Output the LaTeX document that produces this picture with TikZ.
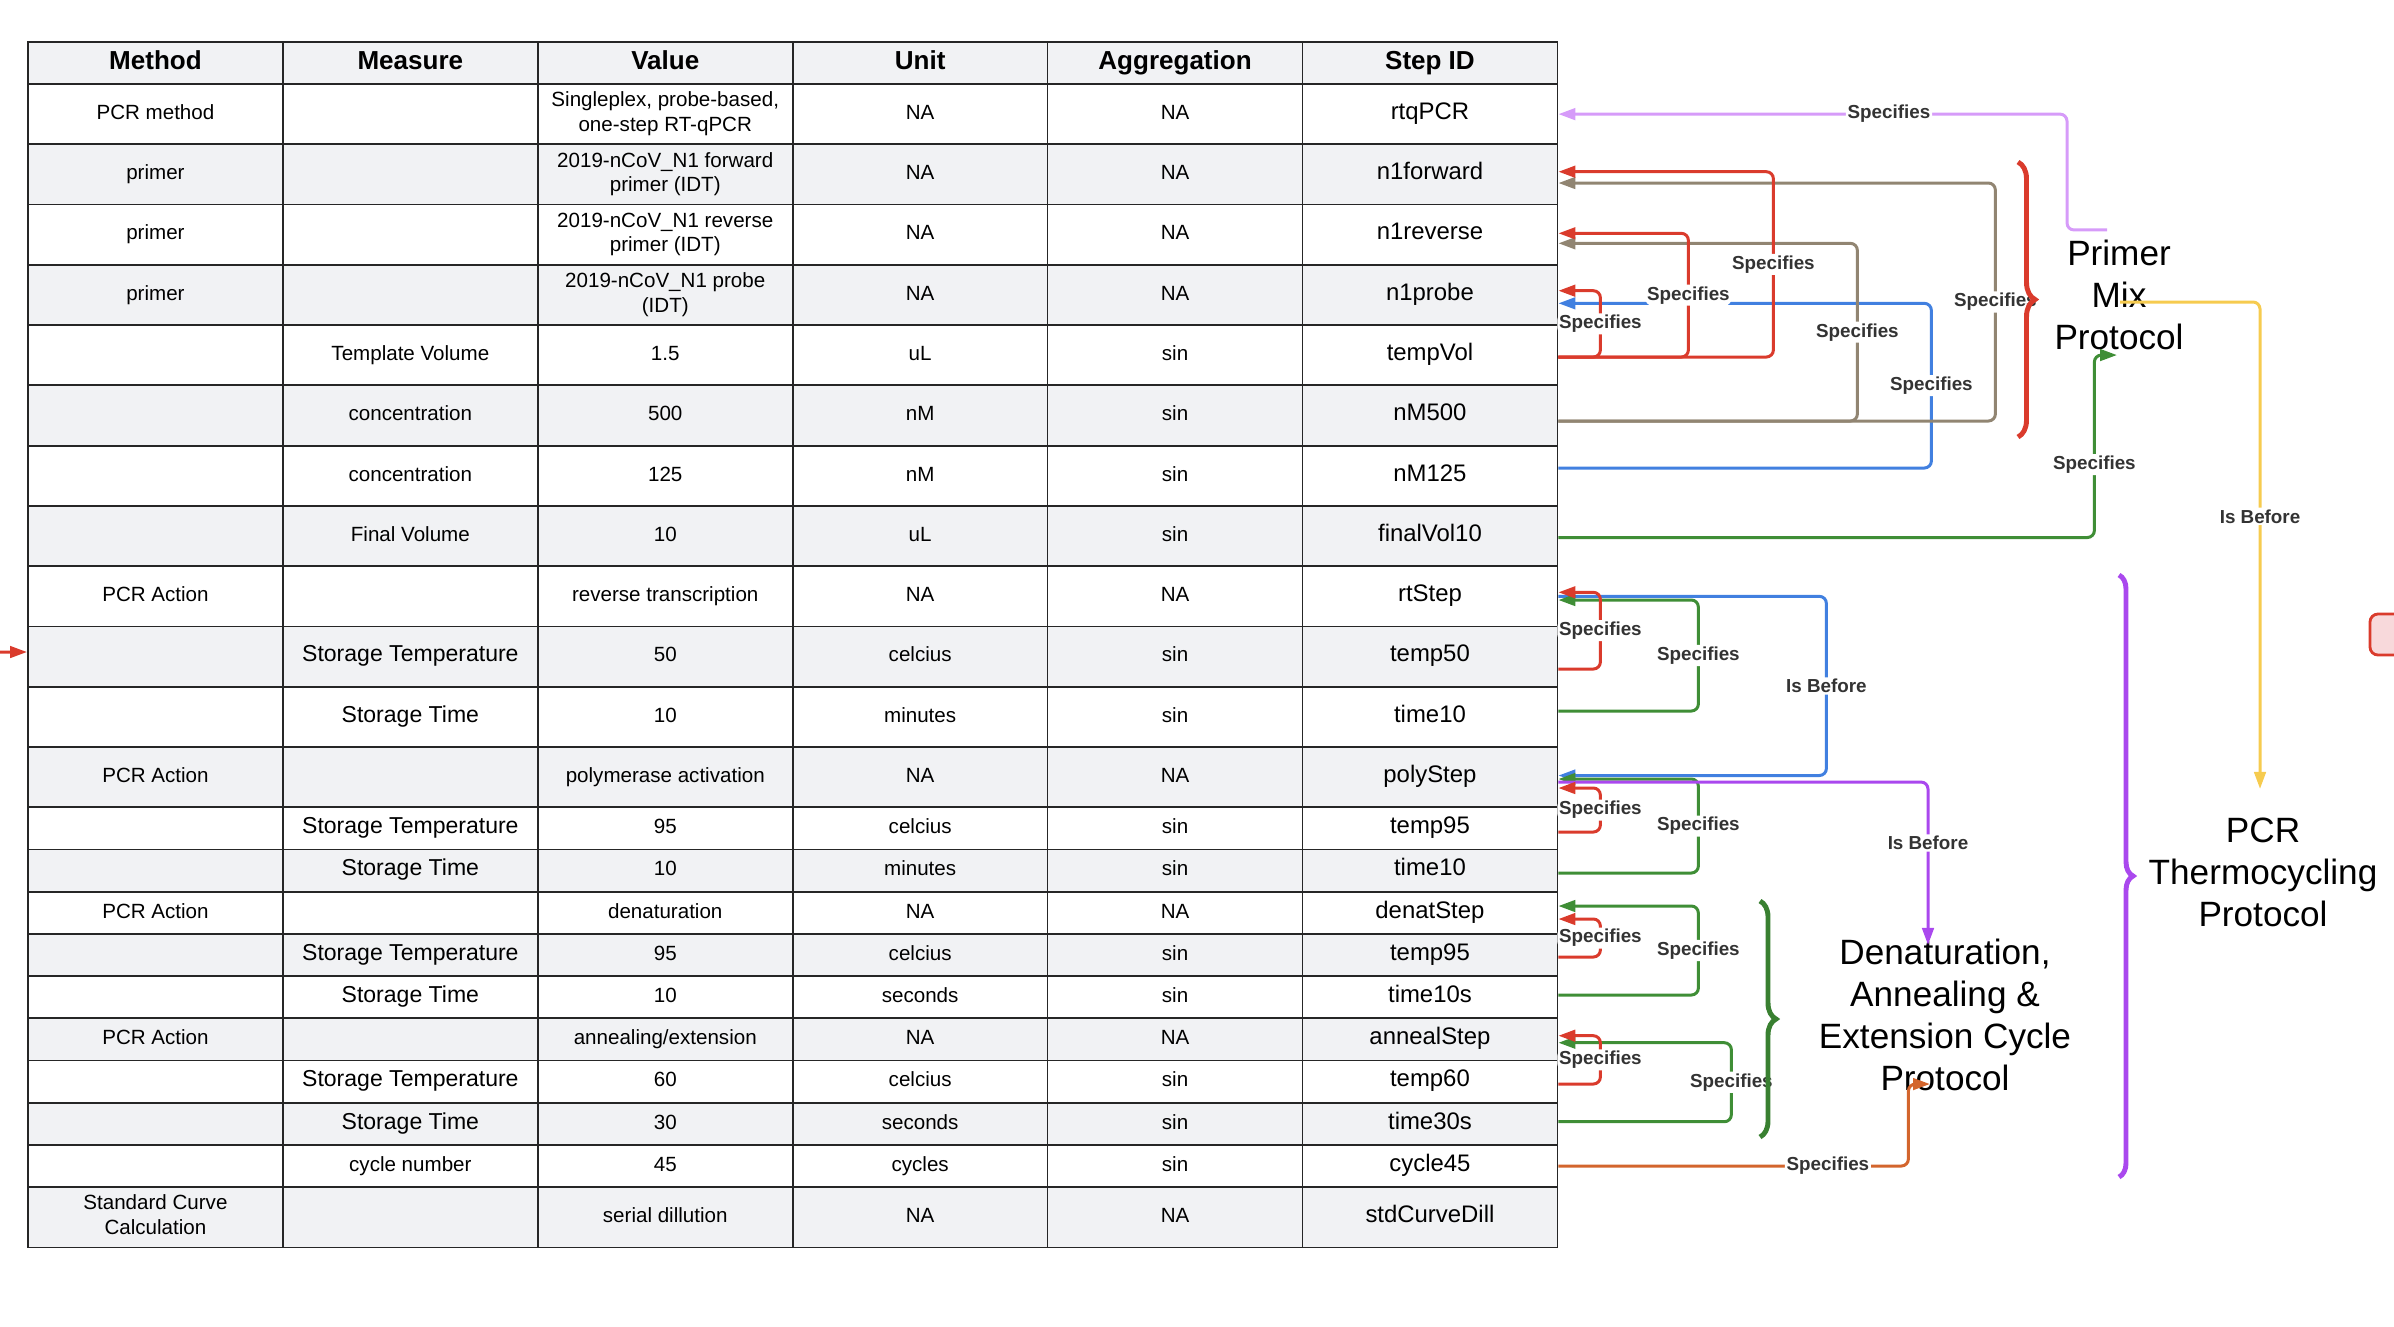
\documentclass[tikz,border=0pt]{standalone}
\usepackage{fontspec}
\setmainfont{Liberation Sans}
\usepackage{xcolor}
\usepackage{tikz}
\usetikzlibrary{arrows.meta,decorations.pathreplacing}

\definecolor{rowgray}{HTML}{F1F2F4}
\definecolor{lnkred}{HTML}{DA3B2C}
\definecolor{lnktaupe}{HTML}{918572}
\definecolor{lnkblue}{HTML}{4180E0}
\definecolor{lnkgreen}{HTML}{3F8E36}
\definecolor{lnklav}{HTML}{D69BF9}
\definecolor{lnkpurple}{HTML}{AA48EE}
\definecolor{lnkyellow}{HTML}{F6CB4F}
\definecolor{lnkorange}{HTML}{D3652D}
\definecolor{lblgray}{HTML}{333333}
\definecolor{boxpink}{HTML}{F8D9DB}

\newcommand{\storefont}{\fontsize{6.55}{7.6}\selectfont}
\newcommand{\twoline}[2]{\smash{\begin{tabular}{@{}c@{}}#1\\#2\end{tabular}}}

\begin{document}
\begin{tikzpicture}[x=0.01cm, y=-0.01cm,
  cell/.style={draw=black!85, line width=0.5pt, minimum width=2.549cm, inner sep=0pt, align=center, text height=0.75em, text depth=0.45em, font=\fontsize{5.85}{6.95}\selectfont},
  head/.style={cell, fill=rowgray, minimum height=0.42cm, text depth=0.4em, font=\fontsize{7.4}{8.4}\selectfont\bfseries},
  stepid/.style={font=\fontsize{6.8}{8}\selectfont},
  lbl/.style={fill=white, inner sep=0.5pt, text=lblgray, font=\fontsize{5.35}{6}\selectfont\bfseries},
  proto/.style={align=center, inner sep=0pt, font=\fontsize{10}{11.95}\selectfont},
  link/.style={line width=0.85pt, rounded corners=0.07cm, -{Triangle[length=0.17cm, width=0.115cm]}},
  curly/.style={decorate, decoration={brace, amplitude=#1}, line width=1.4pt}]
\useasboundingbox (0,0) rectangle (2394,1326);

% table header
\node[head] (hMethod) at (155.45,63) {Method};
\node[head] (hMeasure) at (410.35,63) {Measure};
\node[head] (hValue) at (665.25,63) {Value};
\node[head] (hUnit) at (920.15,63) {Unit};
\node[head] (hAgg) at (1175.05,63) {Aggregation};
\node[head] (hStep) at (1429.95,63) {Step ID};

% table rows
\foreach \rw/\yy/\hh/\bg/\ma/\mb/\va/\un/\ag/\sid in {
  1/114.1/0.603/white/PCR method/{}/{\twoline{Singleplex, probe-based,}{one-step RT-qPCR}}/NA/NA/rtqPCR,
  2/174.4/0.603/rowgray/primer/{}/{\twoline{2019-nCoV\_N1 forward}{primer (IDT)}}/NA/NA/n1forward,
  3/234.7/0.603/white/primer/{}/{\twoline{2019-nCoV\_N1 reverse}{primer (IDT)}}/NA/NA/n1reverse,
  4/294.9/0.603/rowgray/primer/{}/{\twoline{2019-nCoV\_N1 probe}{(IDT)}}/NA/NA/n1probe,
  5/355.2/0.603/white/{}/Template Volume/1.5/uL/sin/tempVol,
  6/415.5/0.603/rowgray/{}/concentration/500/nM/sin/nM500,
  7/475.8/0.603/white/{}/concentration/125/nM/sin/nM125,
  8/536.0/0.603/rowgray/{}/Final Volume/10/uL/sin/finalVol10,
  9/596.3/0.603/white/PCR Action/{}/reverse transcription/NA/NA/rtStep,
  10/656.6/0.603/rowgray/{}/{\storefont Storage Temperature}/50/celcius/sin/temp50,
  11/716.8/0.603/white/{}/{\storefont Storage Time}/10/minutes/sin/time10,
  12/777.1/0.603/rowgray/PCR Action/{}/polymerase activation/NA/NA/polyStep,
  13/828.4/0.422/white/{}/{\storefont Storage Temperature}/95/celcius/sin/temp95,
  14/870.6/0.422/rowgray/{}/{\storefont Storage Time}/10/minutes/sin/time10,
  15/912.8/0.422/white/PCR Action/{}/denaturation/NA/NA/denatStep,
  16/955.0/0.422/rowgray/{}/{\storefont Storage Temperature}/95/celcius/sin/temp95,
  17/997.2/0.422/white/{}/{\storefont Storage Time}/10/seconds/sin/time10s,
  18/1039.4/0.422/rowgray/PCR Action/{}/{annealing/extension}/NA/NA/annealStep,
  19/1081.6/0.422/white/{}/{\storefont Storage Temperature}/60/celcius/sin/temp60,
  20/1123.8/0.422/rowgray/{}/{\storefont Storage Time}/30/seconds/sin/time30s,
  21/1166.0/0.422/white/{}/cycle number/45/cycles/sin/cycle45,
  22/1217.2/0.603/rowgray/{\twoline{Standard Curve}{Calculation}}/{}/serial dillution/NA/NA/stdCurveDill}
{
  \node[cell, fill=\bg, minimum height=\hh cm] (method\rw) at (155.45,\yy) {\ma};
  \node[cell, fill=\bg, minimum height=\hh cm] (measure\rw) at (410.35,\yy) {\mb};
  \node[cell, fill=\bg, minimum height=\hh cm] (value\rw) at (665.25,\yy) {\va};
  \node[cell, fill=\bg, minimum height=\hh cm] (unit\rw) at (920.15,\yy) {\un};
  \node[cell, fill=\bg, minimum height=\hh cm] (agg\rw) at (1175.05,\yy) {\ag};
  \node[cell, fill=\bg, minimum height=\hh cm, stepid] (step\rw) at (1429.95,\yy) {\sid};
}

% protocols
\node[proto] (primer) at (2119,295) {Primer\\Mix\\Protocol};
\node[proto] (thermo) at (2263,872) {PCR\\Thermocycling\\Protocol};
\node[proto] (denat) at (1945,1015) {Denaturation,\\Annealing \&\\Extension Cycle\\Protocol};

% primer mix
\draw[link, lnkblue] ([yshift=0.078cm]step7.east) -- ++(373,0) |- node[lbl, pos=0.25] {Specifies} ([yshift=-0.084cm]step4.east);
\draw[link, lnktaupe] ([yshift=-0.055cm]step6.east) -- ++(437,0) |- node[lbl, pos=0.25] {Specifies} ([yshift=-0.086cm]step2.east);
\draw[link, lnktaupe] ([yshift=-0.055cm]step6.east) -- ++(299,0) |- node[lbl, pos=0.25] {Specifies} ([yshift=-0.086cm]step3.east);
\draw[link, lnkred] ([yshift=-0.018cm]step5.east) -- ++(215,0) |- node[lbl, pos=0.25] {Specifies} ([yshift=0.027cm]step2.east);
\draw[link, lnkred] ([yshift=-0.018cm]step5.east) -- ++(130,0) |- node[lbl, pos=0.25] {Specifies} ([yshift=0.014cm]step3.east);
\draw[link, lnkred] ([yshift=-0.018cm]step5.east) -- ++(42,0) |- node[lbl, pos=0.25] {Specifies} ([yshift=0.042cm]step4.east);

% reverse transcription
\draw[link, lnkblue] (step9.east) -- ++(268,0) |- node[lbl, pos=0.25] {Is Before} ([yshift=0.016cm]step12.east);
\draw[link, lnkgreen] ([yshift=0.058cm]step11.east) -- ++(140,0) |- node[lbl, pos=0.25] {Specifies} ([yshift=-0.037cm]step9.east);
\draw[link, lnkred] ([yshift=-0.124cm]step10.east) -- ++(42,0) |- node[lbl, pos=0.25] {Specifies} ([yshift=0.04cm]step9.east);

% polymerase activation
\draw[link, lnkgreen] ([yshift=-0.024cm]step14.east) -- ++(140,0) |- node[lbl, pos=0.25] {Specifies} ([yshift=-0.019cm]step12.east);
\draw[link, lnkpurple] ([yshift=-0.049cm]step12.east) -| node[lbl, pos=0.687] {Is Before} ([xshift=-0.17cm, yshift=0.7cm]denat.center);
\draw[link, lnkred] ([yshift=-0.036cm]step13.east) -- ++(42,0) |- node[lbl, pos=0.25] {Specifies} ([yshift=-0.109cm]step12.east);

% denaturation
\draw[link, lnkgreen] ([yshift=0.022cm]step17.east) -- ++(140,0) |- node[lbl, pos=0.25] {Specifies} ([yshift=0.068cm]step15.east);
\draw[link, lnkred] ([yshift=-0.02cm]step16.east) -- ++(42,0) |- node[lbl, pos=0.25] {Specifies} ([yshift=-0.062cm]step15.east);

% annealing
\draw[link, lnkgreen] ([yshift=0.021cm]step20.east) -- ++(173,0) |- node[lbl, pos=0.25] {Specifies} ([yshift=-0.033cm]step18.east);
\draw[link, lnkred] ([yshift=-0.024cm]step19.east) -- ++(42,0) |- node[lbl, pos=0.25] {Specifies} ([yshift=0.037cm]step18.east);

% cycles
\draw[link, lnkorange] (step21.east) -- node[lbl, pos=0.77] {Specifies} ++(350,0) |- ([xshift=-0.15cm, yshift=-0.69cm]denat.center);

% protocol links
\draw[link, lnkgreen] ([yshift=-0.015cm]step8.east) -- ++(536,0) |- node[lbl, pos=0.2] {Specifies} ([xshift=-0.02cm, yshift=-0.6cm]primer.center);
\draw[link, lnklav] ([xshift=-0.12cm, yshift=0.65cm]primer.center) -- ++(-40,0) |- node[lbl, pos=0.675] {Specifies} (step1.east);
\draw[link, lnkyellow] ([xshift=0.01cm, yshift=-0.07cm]primer.center) -| node[lbl, pos=0.72] {Is Before} ([xshift=-0.03cm, yshift=0.83cm]thermo.center);

% braces
\draw[curly=0.17cm, lnkred] (2018,162) -- (2018,437);
\draw[curly=0.16cm, lnkgreen!90!black] (1760,901) -- (1760,1137);
\draw[curly=0.14cm, lnkpurple] (2119,575) -- (2119,1177);

% cut off at the edges
\coordinate (offleft) at (-30,652);
\draw[link, lnkred] (offleft) -- ([yshift=0.046cm]method10.west);
\node[draw=lnkred, fill=boxpink, rounded corners=0.08cm, line width=0.8pt, minimum width=1cm, minimum height=0.41cm] (offbox) at (2420,634.5) {};
\end{tikzpicture}
\end{document}
